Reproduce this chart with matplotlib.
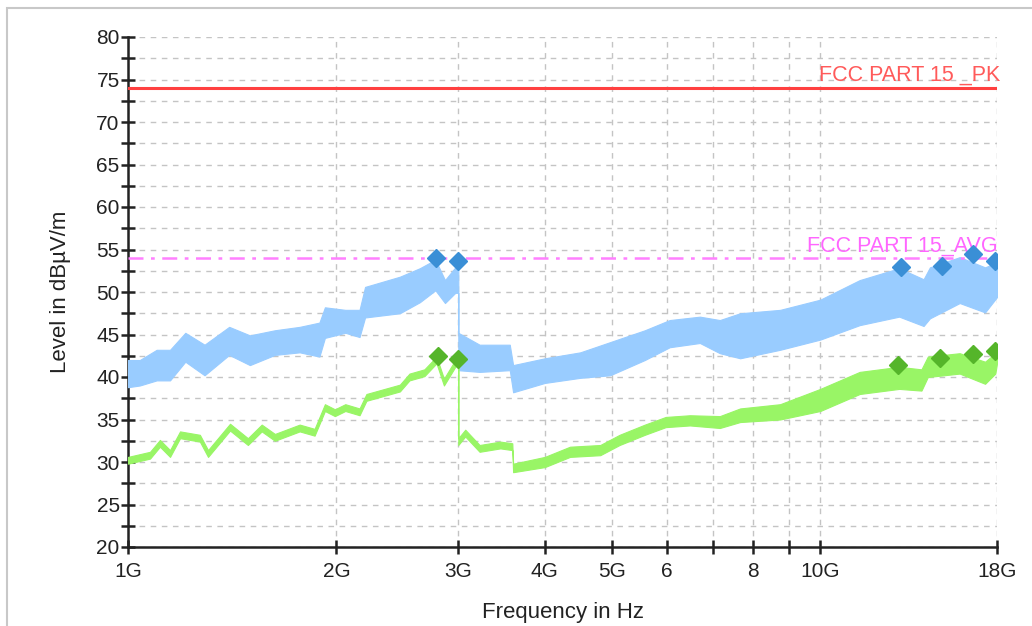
import matplotlib
matplotlib.use("Agg")
import matplotlib.pyplot as plt
from matplotlib.patches import Rectangle
from matplotlib.ticker import FixedLocator, NullFormatter, NullLocator

plt.rcParams['font.family'] = ['Liberation Sans', 'DejaVu Sans']

# peak trace (blue) envelope, frequency in GHz, level in dBuV/m
pk_freq = [1.0, 1.04, 1.10, 1.15, 1.21, 1.29, 1.40, 1.50, 1.63, 1.77, 1.89, 1.925,
           2.06, 2.16, 2.2, 2.47, 2.64, 2.78, 2.87, 2.97, 3.0, 3.0, 3.22, 3.56, 3.6,
           4.0, 4.5, 4.97, 5.58, 6.06, 6.7, 7.16, 7.66, 8.75, 10.0, 11.4, 13.0, 14.1,
           14.4, 15.9, 17.3, 18.0]
pk_hi = [42.0, 42.0, 43.2, 43.2, 45.2, 43.8, 45.9, 44.9, 45.5, 45.9, 46.4, 48.2,
         47.9, 47.9, 50.6, 51.8, 52.8, 53.8, 51.4, 52.9, 53.3, 45.2, 43.8, 43.8, 41.4,
         42.2, 42.9, 44.1, 45.5, 46.7, 47.1, 46.7, 47.5, 47.9, 49.1, 51.4, 52.8, 51.5,
         52.9, 54.1, 52.9, 53.5]
pk_lo = [38.8, 39.0, 39.6, 39.6, 41.8, 40.2, 42.6, 41.4, 42.6, 42.9, 42.4, 44.6,
         45.2, 44.7, 47.0, 47.5, 48.8, 50.2, 48.7, 49.9, 49.9, 40.8, 40.6, 40.8, 38.2,
         39.3, 39.9, 40.2, 42.0, 43.5, 44.0, 42.8, 42.2, 43.2, 44.4, 46.1, 47.1, 46.0,
         46.9, 48.7, 47.6, 49.4]

# average trace (green) envelope
av_freq = [1.0, 1.076, 1.112, 1.15, 1.189, 1.27, 1.305, 1.404, 1.49, 1.56, 1.63, 1.77,
           1.86, 1.925, 1.99, 2.06, 2.16, 2.21, 2.47, 2.55, 2.68, 2.79, 2.86, 2.97, 3.0,
           3.0, 3.07, 3.22, 3.45, 3.59, 3.6, 4.0, 4.35, 4.81, 5.13, 5.58, 5.98, 6.48,
           7.16, 7.66, 8.75, 10.0, 11.4, 13.0, 14.0, 14.3, 15.9, 17.3, 17.9, 18.0]
av_lo = [29.8, 30.4, 31.8, 30.6, 32.8, 32.4, 30.6, 33.7, 32.0, 33.6, 32.5, 33.6,
         33.1, 36.0, 35.4, 36.0, 35.5, 37.2, 38.3, 39.6, 40.1, 41.6, 39.0, 41.2, 41.4,
         32.0, 33.0, 31.2, 31.6, 31.4, 28.8, 29.4, 30.6, 30.8, 32.0, 33.2, 34.1, 34.3,
         34.0, 34.7, 35.0, 36.0, 38.0, 38.6, 38.4, 40.0, 40.4, 39.2, 40.4, 41.6]
av_hi = [30.6, 31.2, 32.6, 31.4, 33.6, 33.2, 31.4, 34.5, 32.8, 34.4, 33.3, 34.4,
         33.9, 36.8, 36.2, 36.8, 36.3, 38.0, 39.1, 40.4, 40.9, 42.4, 39.8, 42.0, 42.2,
         32.8, 33.8, 32.0, 32.4, 32.2, 29.8, 30.6, 31.8, 32.0, 33.2, 34.4, 35.3, 35.5,
         35.4, 36.3, 36.8, 38.6, 40.6, 41.2, 40.9, 42.4, 42.8, 41.8, 42.8, 43.0]

# final measurement markers
pk_mark_f = [2.786, 2.994, 13.07, 14.98, 16.63, 17.88]
pk_mark_v = [54.0, 53.6, 52.9, 53.1, 54.5, 53.6]
av_mark_f = [2.80, 3.00, 12.95, 14.9, 16.6, 17.9]
av_mark_v = [42.5, 42.1, 41.4, 42.2, 42.7, 43.1]

# limits
limit_pk = 74
limit_avg = 54

x_ticks = [1, 2, 3, 4, 5, 6, 7, 8, 9, 10, 18]
x_labels = ['1G', '2G', '3G', '4G', '5G', '6', '', '8', '', '10G', '18G']

fig = plt.figure(figsize=(10.32, 6.26), dpi=100)
ax = fig.add_axes([128 / 1032, 1 - 547 / 626, (997 - 128) / 1032, (547 - 37) / 626])

ax.set_xscale('log')
ax.set_xlim(1, 18)
ax.set_ylim(20, 80)

ax.fill_between(pk_freq, pk_lo, pk_hi, color='#99ccff', lw=0.8, edgecolor='#99ccff', zorder=3)
ax.fill_between(av_freq, av_lo, av_hi, color='#99f566', lw=0.8, edgecolor='#99f566', zorder=4)

ax.axhline(limit_pk, color='#ff4040', lw=2.2, zorder=5)
ax.axhline(limit_avg, color='#ff80ff', lw=1.8, ls=(0, (6, 3, 1.5, 3)), zorder=5)
ax.text(18.2, limit_pk + 0.3, 'FCC PART 15 _PK', color='#ff5a5a', fontsize=15.5,
        ha='right', va='bottom', zorder=6)
ax.text(18.05, limit_avg + 0.2, 'FCC PART 15_AVG', color='#ff66ff', fontsize=15.5,
        ha='right', va='bottom', zorder=6)

ax.plot(pk_mark_f, pk_mark_v, 'D', color='#3a8fd6', ms=9, zorder=7)
ax.plot(av_mark_f, av_mark_v, 'D', color='#55b52a', ms=9, zorder=7)

ax.xaxis.set_major_locator(FixedLocator(x_ticks))
ax.set_xticklabels(x_labels)
ax.xaxis.set_minor_locator(NullLocator())
ax.xaxis.set_minor_formatter(NullFormatter())
ax.set_yticks(range(20, 81, 5))
ax.set_yticks([y + 2.5 for y in range(20, 80, 5)], minor=True)

ax.tick_params(axis='both', which='both', direction='inout', length=10, width=1.8,
               color='#222222', labelsize=15, labelcolor='#222222')
ax.tick_params(axis='y', pad=1)
ax.tick_params(axis='x', pad=6)

ax.grid(True, which='both', color='#c4c4c4', ls=(0, (4, 4)), lw=1)
ax.set_axisbelow(True)
for s in ['top', 'right']:
    ax.spines[s].set_visible(False)
for s in ['left', 'bottom']:
    ax.spines[s].set_linewidth(1.8)
    ax.spines[s].set_color('#222222')

ax.set_xlabel('Frequency in Hz', fontsize=16, color='#222222', labelpad=15)
ax.set_ylabel('Level in dBµV/m', fontsize=16, color='#222222', labelpad=18)

fig.patches.append(Rectangle((7 / 1032, -0.1), 1.2, (626 - 8) / 626 + 0.1,
                             transform=fig.transFigure, fill=False,
                             edgecolor='#c8c8c8', lw=1.5))

fig.savefig('out.png', dpi=100)
